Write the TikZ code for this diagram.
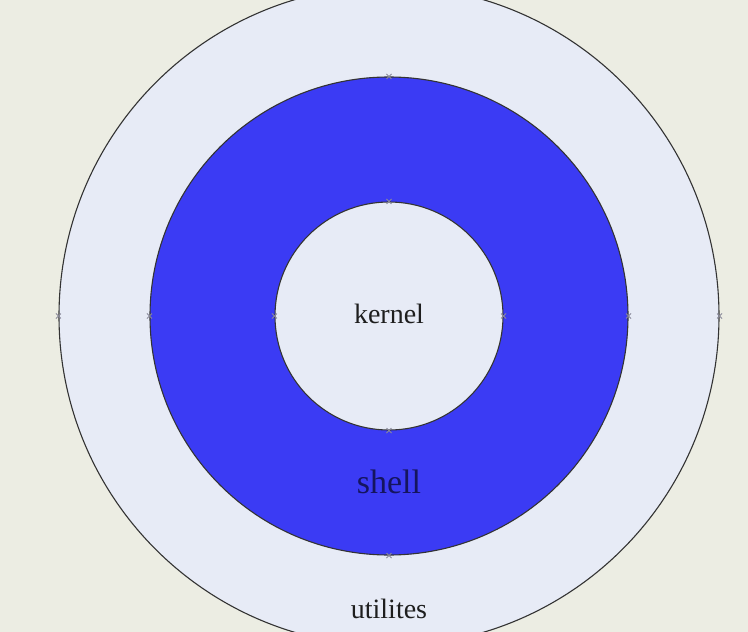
\documentclass[tikz,border=0pt]{standalone}
\usepackage{fontspec}
\setmainfont{Liberation Serif}
\definecolor{bgc}{HTML}{ECEDE3}
\definecolor{lightring}{HTML}{E7EBF6}
\definecolor{bluering}{HTML}{3B3BF4}
\definecolor{edgec}{HTML}{333333}
\definecolor{markc}{HTML}{8A8A9A}
\definecolor{textc}{HTML}{1E1E1E}
\definecolor{shelltext}{HTML}{15155E}
\begin{document}
\begin{tikzpicture}[x=1pt,y=-1pt,
  disc/.style={circle, draw=edgec, line width=1.1pt, inner sep=0pt},
  lab/.style={anchor=base, inner sep=0pt, text=textc},
  mk/.style={draw=markc, line width=0.8pt}]
\useasboundingbox (0,0) rectangle (748,632);
\clip (0,0) rectangle (748,632);
\fill[bgc] (0,0) rectangle (748,632);
\node[disc, fill=lightring, minimum size=660pt] (outer) at (389,316) {};
\node[disc, fill=bluering, minimum size=478pt] (ring) at (389,316) {};
\node[disc, fill=lightring, minimum size=228pt] (core) at (389,316) {};
\foreach \n in {outer,ring,core}{
  \foreach \a in {north,south,east,west}{
    \draw[mk] ([shift={(-2.5pt,-2.5pt)}]\n.\a) -- ([shift={(2.5pt,2.5pt)}]\n.\a);
    \draw[mk] ([shift={(-2.5pt,2.5pt)}]\n.\a) -- ([shift={(2.5pt,-2.5pt)}]\n.\a);
  }
}
\node[lab, font=\fontsize{28}{30}\selectfont] (kernel) at (389,323) {kernel};
\node[lab, font=\fontsize{34}{36}\selectfont, text=shelltext] (shell) at (389,493) {shell};
\node[lab, font=\fontsize{28}{30}\selectfont] (util) at (389,618) {utilites};
\end{tikzpicture}
\end{document}
